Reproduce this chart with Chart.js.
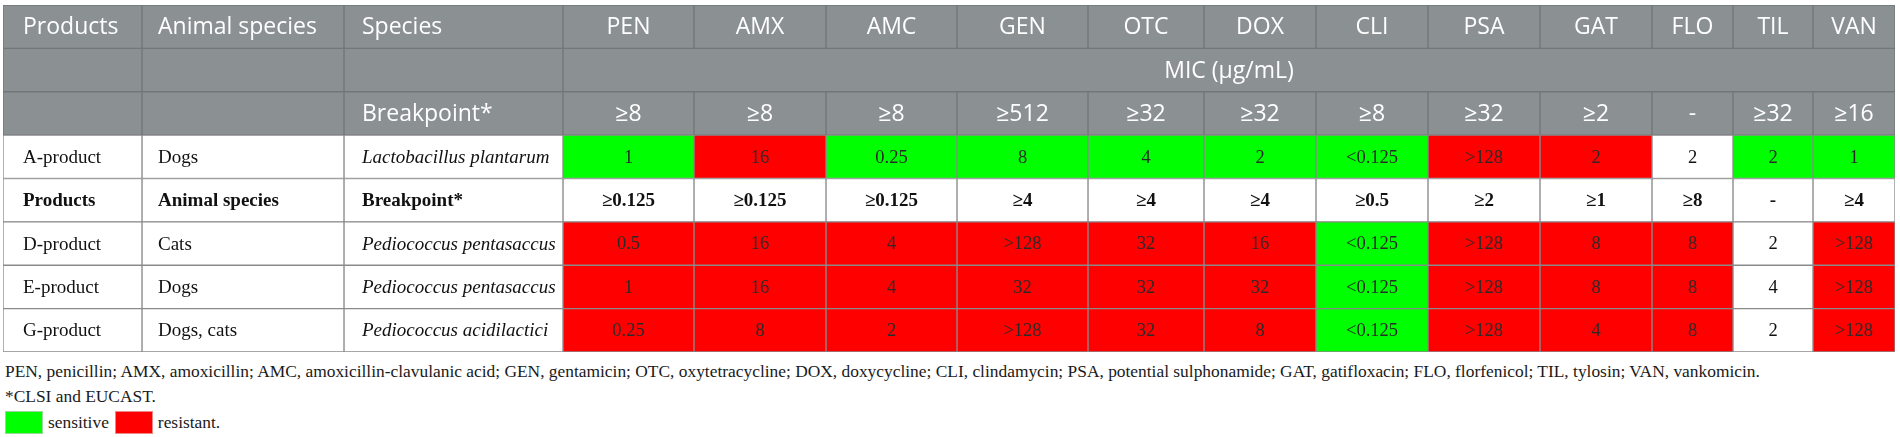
<!doctype html>
<html lang="en">
  <head>
    <meta charset="utf-8">
    <title>MIC table</title>
    <style>
      * {
        margin: 0;
        padding: 0;
      }
      body {
        width: 1900px;
        height: 437px;
        background: white;
        position: relative;
        overflow: hidden;
      }
      #micChart {
        position: absolute;
        left: 0;
        top: 0;
      }
      .notes {
        position: absolute;
        left: 5px;
        top: 359px;
        font-family: "Liberation Serif", serif;
        font-size: 17.4px;
        line-height: 25px;
        color: #1a1a1a;
        white-space: nowrap;
      }
      .key {
        display: flex;
        align-items: center;
        height: 24px;
        margin-top: 1px;
      }
      .key span.box {
        display: inline-block;
        width: 36px;
        height: 21px;
        border: 1px solid #9ad99a;
        margin-right: 5px;
      }
      .key span.box.red {
        border-color: #e88;
        margin-left: 6px;
      }
    </style>
  </head>
  <body>
    <canvas id="micChart" width="1900" height="356"></canvas>
    <div class="notes">
      <div>PEN, penicillin; AMX, amoxicillin; AMC, amoxicillin-clavulanic acid; GEN, gentamicin; OTC, oxytetracycline; DOX, doxycycline; CLI, clindamycin; PSA, potential sulphonamide; GAT, gatifloxacin; FLO, florfenicol; TIL, tylosin; VAN, vankomicin.</div>
      <div>*CLSI and EUCAST.</div>
      <div class="key"><span class="box" style="background:#00ff00"></span>sensitive<span class="box red" style="background:#ff0000"></span>resistant.</div>
    </div>
    <script src="https://cdn.jsdelivr.net/npm/chart.js"></script>
    <script>

    // data
    const antibiotics = ['PEN', 'AMX', 'AMC', 'GEN', 'OTC', 'DOX', 'CLI', 'PSA', 'GAT', 'FLO', 'TIL', 'VAN'];
    const breakpointsTop = ['≥8', '≥8', '≥8', '≥512', '≥32', '≥32', '≥8', '≥32', '≥2', '-', '≥32', '≥16'];
    const breakpointsSub = ['≥0.125', '≥0.125', '≥0.125', '≥4', '≥4', '≥4', '≥0.5', '≥2', '≥1', '≥8', '-', '≥4'];
    const products = ['A-product', 'D-product', 'E-product', 'G-product'];
    const animals = ['Dogs', 'Cats', 'Dogs', 'Dogs, cats'];
    const strains = ['Lactobacillus plantarum', 'Pediococcus pentasaccus', 'Pediococcus pentasaccus', 'Pediococcus acidilactici'];
    const micA = ['1', '16', '0.25', '8', '4', '2', '<0.125', '>128', '2', '2', '2', '1'];
    const micD = ['0.5', '16', '4', '>128', '32', '16', '<0.125', '>128', '8', '8', '2', '>128'];
    const micE = ['1', '16', '4', '32', '32', '32', '<0.125', '>128', '8', '8', '4', '>128'];
    const micG = ['0.25', '8', '2', '>128', '32', '8', '<0.125', '>128', '4', '8', '2', '>128'];
    // S = sensitive, R = resistant, - = no breakpoint
    const statusA = ['S', 'R', 'S', 'S', 'S', 'S', 'S', 'R', 'R', '-', 'S', 'S'];
    const statusD = ['R', 'R', 'R', 'R', 'R', 'R', 'S', 'R', 'R', 'R', '-', 'R'];
    const statusE = ['R', 'R', 'R', 'R', 'R', 'R', 'S', 'R', 'R', 'R', '-', 'R'];
    const statusG = ['R', 'R', 'R', 'R', 'R', 'R', 'S', 'R', 'R', 'R', '-', 'R'];

    // layout (not data)
    const colWidths = [139, 202, 219, 131, 132, 131, 131, 116, 112, 112, 112, 112, 81, 80, 82];
    const textPad = [20, 16, 18];
    const edges = [0];
    colWidths.forEach(w => edges.push(edges[edges.length - 1] + w));

    const HEAD_BG = '#8b9093';
    const HEAD_LINE = '#72777a';
    const BODY_LINE = '#8a8a8a';
    const fills = { S: '#00ff00', R: '#ff0000', '-': '#ffffff' };
    const sans = '23px "Open Sans"';
    const serif = '19px "Liberation Serif"';

    function headCell(text, align) {
      return { text, fill: HEAD_BG, line: HEAD_LINE, font: sans, color: '#ffffff', align: align || 'center' };
    }
    function bodyCell(text, font, align, fill) {
      return { text, fill: fill || '#ffffff', line: BODY_LINE, font: font || serif, color: fill && fill !== '#ffffff' ? '#2a2a2a' : '#111111', align: align || 'center' };
    }

    // rows of the table
    const rows = [];
    rows.push({ key: 'head', cells: [headCell('Products', 'left'), headCell('Animal species', 'left'), headCell('Species', 'left')]
      .concat(antibiotics.map(a => headCell(a))) });
    rows.push({ key: 'mic', cells: [headCell(''), headCell(''), headCell('')], span: headCell('MIC (μg/mL)') });
    rows.push({ key: 'bp', cells: [headCell(''), headCell(''), headCell('Breakpoint*', 'left')]
      .concat(breakpointsTop.map(b => headCell(b))) });

    const micRows = [micA, micD, micE, micG];
    const statusRows = [statusA, statusD, statusE, statusG];
    products.forEach((p, i) => {
      rows.push({ key: p, cells: [bodyCell(p, serif, 'left'), bodyCell(animals[i], serif, 'left'), bodyCell(strains[i], 'italic ' + serif, 'left')]
        .concat(micRows[i].map((v, j) => bodyCell(v, '18.5px "Liberation Serif"', 'center', fills[statusRows[i][j]]))) });
      if (i === 0) {
        const bold = 'bold ' + serif;
        rows.push({ key: 'sub', cells: [bodyCell('Products', bold, 'left'), bodyCell('Animal species', bold, 'left'), bodyCell('Breakpoint*', bold, 'left')]
          .concat(breakpointsSub.map(b => bodyCell(b, bold))) });
      }
    });

    // one dataset per column, plus the merged MIC cell
    const datasets = colWidths.map((w, j) => ({
      label: 'col' + j,
      cells: rows.map(r => r.cells[j] || null),
      data: rows.map(r => r.cells[j] ? [edges[j], edges[j + 1]] : null)
    }));
    datasets.push({
      label: 'span',
      cells: rows.map(r => r.span || null),
      data: rows.map(r => r.span ? [edges[3], edges[edges.length - 1]] : null)
    });
    datasets.forEach(ds => {
      ds.grouped = false;
      ds.barPercentage = 1;
      ds.categoryPercentage = 1;
      ds.borderWidth = 1;
      ds.borderSkipped = false;
      ds.backgroundColor = ctx => (ctx.dataset.cells[ctx.dataIndex] || {}).fill || 'transparent';
      ds.borderColor = ctx => (ctx.dataset.cells[ctx.dataIndex] || {}).line || 'transparent';
    });

    const cellText = {
      id: 'cellText',
      afterDatasetsDraw(chart) {
        const c = chart.ctx;
        chart.data.datasets.forEach((ds, di) => {
          const meta = chart.getDatasetMeta(di);
          meta.data.forEach((el, i) => {
            const cell = ds.cells[i];
            if (!cell || !cell.text) return;
            const p = el.getProps(['x', 'y', 'base'], true);
            const left = Math.min(p.x, p.base);
            const right = Math.max(p.x, p.base);
            c.save();
            c.font = cell.font;
            c.fillStyle = cell.color;
            c.textBaseline = 'middle';
            if (cell.align === 'left') {
              c.textAlign = 'left';
              c.fillText(cell.text, left + (textPad[di] || 16), p.y + 1);
            } else {
              c.textAlign = 'center';
              c.fillText(cell.text, (left + right) / 2, p.y + 1);
            }
            c.restore();
          });
        });
      }
    };

    const config = {
      type: 'bar',
      data: {
        labels: rows.map(r => r.key),
        datasets
      },
      options: {
        indexAxis: 'y',
        responsive: false,
        animation: false,
        devicePixelRatio: 1,
        layout: { padding: { left: 3, right: 5, top: 5, bottom: 4 } },
        scales: {
          x: { type: 'linear', min: 0, max: edges[edges.length - 1], display: false },
          y: { type: 'category', display: false }
        },
        plugins: {
          legend: { display: false },
          tooltip: { enabled: false }
        }
      },
      plugins: [cellText]
    };

    const micChart = new Chart(document.getElementById('micChart'), config);
    </script>
  </body>
</html>
